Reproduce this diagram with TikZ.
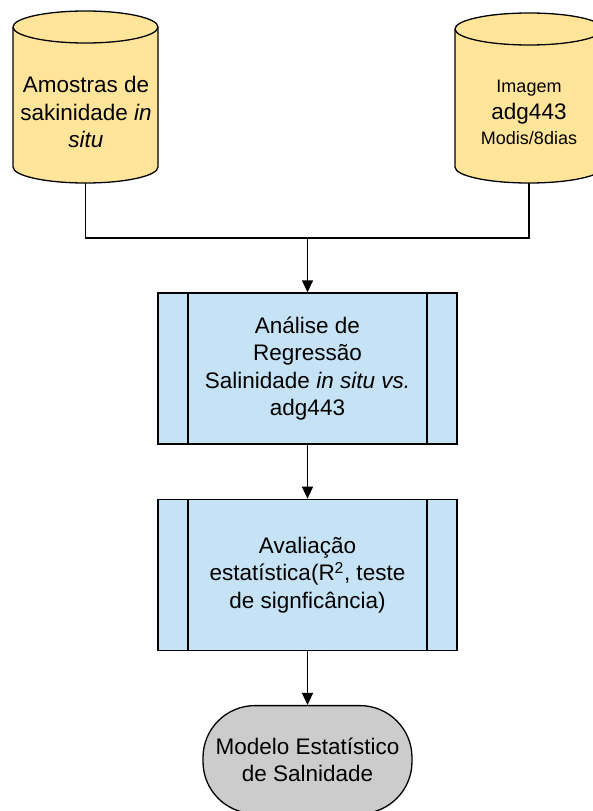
\documentclass[tikz,border=0pt]{standalone}
\usepackage{fontspec}
\setmainfont{Liberation Sans}
\usetikzlibrary{shapes.geometric, arrows.meta, positioning}
\definecolor{cylyellow}{RGB}{255,229,153}
\definecolor{boxblue}{RGB}{197,227,245}
\definecolor{termgray}{RGB}{204,204,204}
\tikzset{
	store/.style={draw, fill=cylyellow, line width=1.3pt},
	procbox/.style={rectangle, draw, fill=boxblue, minimum width=299pt, minimum height=151pt, align=center, line width=1.3pt, font=\fontsize{22.5}{27.5}\selectfont,
		path picture={\draw[line width=1.3pt] ([xshift=30pt]path picture bounding box.north west) -- ([xshift=30pt]path picture bounding box.south west)
			([xshift=-30pt]path picture bounding box.north east) -- ([xshift=-30pt]path picture bounding box.south east);}},
	terminal/.style={rectangle, rounded corners=52pt, draw, fill=termgray, minimum width=209pt, minimum height=108pt, align=center, line width=1.3pt, font=\fontsize{22.5}{27.5}\selectfont},
	flow/.style={-{Triangle[length=12pt,width=11pt]}, line width=1.3pt},
	bigtxt/.style={font=\fontsize{22.5}{27.5}\selectfont, align=center}
}
\begin{document}
\begin{tikzpicture}[x=1pt, y=-1pt]
		\useasboundingbox (0,0) rectangle (592,811);
		% Data sources (cylinders)
		\draw[store] (13,27) -- (13,167) arc(180:360:72.5pt and 16pt) -- (158,27) arc(0:180:72.5pt and 16pt) -- cycle;
		\draw[line width=1.3pt] (13,27) arc(180:360:72.5pt and 16pt);
		\draw[store] (455,29) -- (455,167) arc(180:360:74pt and 16pt) -- (603,29) arc(0:180:74pt and 16pt) -- cycle;
		\draw[line width=1.3pt] (455,29) arc(180:360:74pt and 16pt);
		\coordinate (amostras) at (85.5,183);
		\coordinate (imagem) at (529,183);
		\node[bigtxt] (amostrastxt) at (86,112) {Amostras de\\sakinidade \textit{in}\\\textit{situ}};
		\node[bigtxt] (imagemtxt) at (529,112) {{\fontsize{18}{22}\selectfont Imagem}\\adg443\\[-3pt]{\fontsize{18}{22}\selectfont Modis/8dias}};
		
		% Processing steps
		\node[procbox] (regressao) at (307.5,368.5) {An\'alise de\\Regress\~ao\\Salinidade \textit{in situ vs.}\\adg443};
		\node[procbox, below=54pt of regressao] (avaliacao) {Avalia\c{c}\~ao\\estat\'istica(R\textsuperscript{2}, teste\\de signfic\^ancia)};
		\node[terminal, below=54pt of avaliacao] (modelo) {Modelo Estat\'istico\\de Salnidade};
		
		% Connectors
		\coordinate (juncao) at (307.5,238);
		\draw[line width=1.3pt] (amostras) |- (juncao) -| (imagem);
		\draw[flow] (juncao) -- (regressao);
		\draw[flow] (regressao) -- (avaliacao);
		\draw[flow] (avaliacao) -- (modelo);
\end{tikzpicture}
\end{document}
